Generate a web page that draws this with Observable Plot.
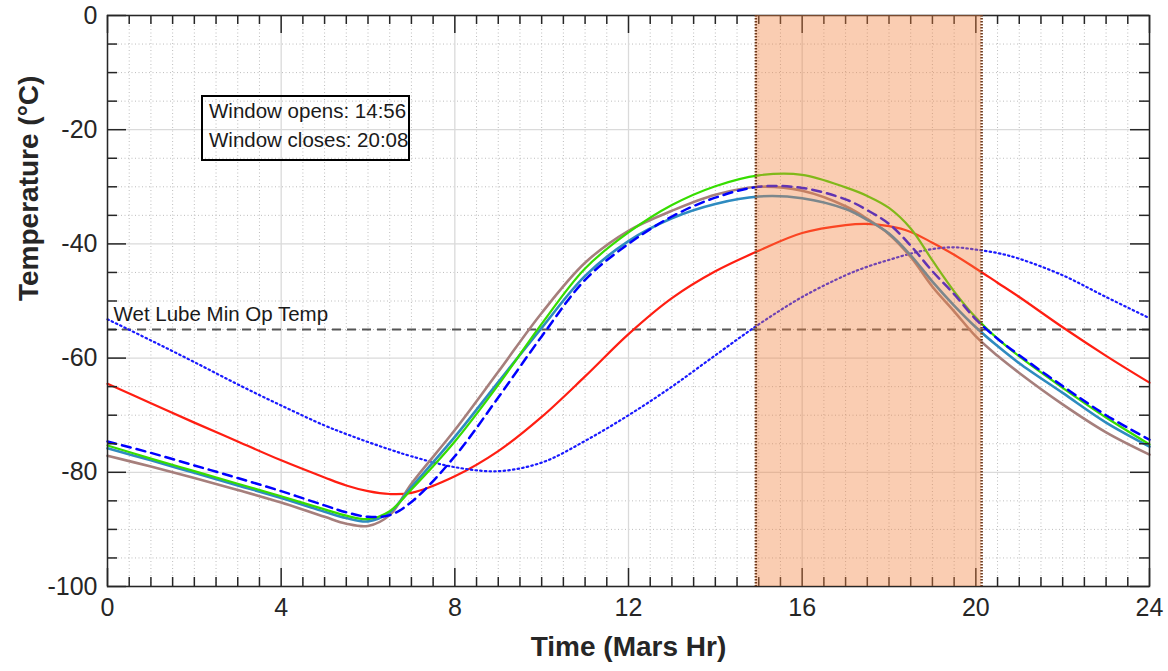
<!DOCTYPE html>
<html><head><meta charset="utf-8">
<script src="https://cdn.jsdelivr.net/npm/d3@7"></script>
<script src="https://cdn.jsdelivr.net/npm/@observablehq/plot@0.6"></script>
<style>
body{margin:0;background:#fff;}
#wrap{position:relative;width:1168px;height:671px;font-family:"Liberation Sans",Arial,Helvetica,sans-serif;}
#box{position:absolute;left:201px;top:95px;width:209px;height:66px;box-sizing:border-box;border:2px solid #000;background:transparent;font-size:20.5px;line-height:28.5px;padding:0 0 0 6px;color:#1a1a1a;white-space:nowrap;}
</style></head><body><div id="wrap"></div>
<script>
// time of day (Mars hours)
const hours = [0,1,2,3,4,5,5.5,6,6.5,7,8,9,10,11,12,13,14,15,16,17,17.5,18,18.5,19,19.5,20,20.5,21,22,23,24];
// temperature series (°C)
const brownT  = [-77.1,-79.0,-81.0,-83.1,-85.3,-87.8,-89.0,-89.4,-87.5,-82.0,-72.6,-62.4,-52.1,-43.3,-37.7,-34.2,-31.4,-30.0,-30.7,-33.4,-35.6,-38.3,-42.3,-47.5,-51.8,-56.2,-59.6,-62.6,-68.1,-73.0,-76.9];
const tealT   = [-75.8,-77.9,-80.1,-82.3,-84.5,-86.9,-88.0,-88.6,-87.0,-82.6,-73.8,-64.2,-54.7,-45.6,-39.5,-35.5,-33.0,-31.7,-32.0,-33.9,-35.8,-38.2,-42.0,-46.6,-50.8,-54.6,-57.9,-60.9,-66.1,-71.3,-75.5];
const greenT  = [-75.3,-77.6,-79.8,-82.0,-84.2,-86.5,-87.6,-88.2,-86.8,-83.0,-74.6,-64.7,-54.0,-44.3,-38.0,-33.2,-29.9,-28.0,-27.9,-30.1,-31.6,-33.7,-37.3,-42.9,-48.3,-52.9,-56.6,-59.7,-65.2,-70.4,-75.1];
const dashedT = [-74.6,-76.6,-78.8,-81.0,-83.3,-85.8,-87.0,-87.8,-87.5,-85.2,-77.2,-66.9,-56.2,-46.3,-40.0,-35.2,-31.9,-30.0,-30.2,-32.2,-34.1,-36.5,-40.3,-44.8,-48.8,-53.2,-56.6,-59.5,-64.9,-70.0,-74.3];
const redT    = [-64.5,-67.9,-71.3,-74.6,-77.9,-80.9,-82.3,-83.3,-83.8,-83.6,-80.7,-76.3,-70.3,-63.2,-55.8,-49.5,-44.8,-41.2,-38.1,-36.7,-36.5,-36.9,-37.9,-39.8,-41.9,-44.3,-46.8,-49.3,-54.6,-59.6,-64.3];
const dottedT = [-53.2,-56.9,-60.7,-64.6,-68.3,-71.8,-73.3,-74.7,-76.0,-77.2,-79.1,-79.8,-78.3,-74.5,-70.0,-65.0,-59.5,-54.1,-49.3,-45.5,-44.0,-42.8,-41.7,-40.9,-40.6,-41.0,-41.6,-42.6,-45.5,-49.3,-53.0];

// axes
const xDomain = [0, 24];
const yDomain = [-100, 0];
const xMajor = [0,4,8,12,16,20,24];
const xMinor = d3.range(0, 24.001, 0.5).filter(v => v % 4 !== 0);
const yMajor = [0,-20,-40,-60,-80,-100];
const yMinor = d3.range(-100, 0.001, 5).filter(v => v % 20 !== 0);

// annotations
const threshold = -55;
const thresholdLabel = "Wet Lube Min Op Temp";
const windowOpen = 14 + 56/60;
const windowClose = 20 + 8/60;
const boxLines = ["Window opens: 14:56", "Window closes: 20:08"];
const xTitle = "Time (Mars Hr)";
const yTitle = "Temperature (°C)";

const W = 1168, H = 671, mL = 107, mR = 19, mT = 15, mB = 85;
const pxPerY = (H - mT - mB) / (yDomain[1] - yDomain[0]);
const pxPerX = (W - mL - mR) / (xDomain[1] - xDomain[0]);
const lenY = px => px / pxPerY;
const lenX = px => px / pxPerX;

const axisColor = "#262626";
const line = (vals, opts) => Plot.line(hours, {x: d => d, y: (d, i) => vals[i], curve: "catmull-rom", ...opts});

const tickMarks = [
  Plot.ruleX(xMajor, {y1: yDomain[0], y2: yDomain[0] + lenY(18), stroke: axisColor, strokeWidth: 1.5}),
  Plot.ruleX(xMinor, {y1: yDomain[0], y2: yDomain[0] + lenY(9), stroke: axisColor, strokeWidth: 1.5}),
  Plot.ruleX(xMajor, {y1: yDomain[1], y2: yDomain[1] - lenY(18), stroke: axisColor, strokeWidth: 1.5}),
  Plot.ruleX(xMinor, {y1: yDomain[1], y2: yDomain[1] - lenY(9), stroke: axisColor, strokeWidth: 1.5}),
  Plot.ruleY(yMajor, {x1: xDomain[0], x2: xDomain[0] + lenX(19), stroke: axisColor, strokeWidth: 1.5}),
  Plot.ruleY(yMinor, {x1: xDomain[0], x2: xDomain[0] + lenX(10), stroke: axisColor, strokeWidth: 1.5}),
  Plot.ruleY(yMajor, {x1: xDomain[1], x2: xDomain[1] - lenX(19), stroke: axisColor, strokeWidth: 1.5}),
  Plot.ruleY(yMinor, {x1: xDomain[1], x2: xDomain[1] - lenX(10), stroke: axisColor, strokeWidth: 1.5})
];

const chart = Plot.plot({
  width: W, height: H,
  marginLeft: mL, marginRight: mR, marginTop: mT, marginBottom: mB,
  style: {fontFamily: '"Liberation Sans", Arial, Helvetica, sans-serif', color: axisColor, background: "#fff"},
  x: {domain: xDomain},
  y: {domain: yDomain},
  marks: [
    Plot.ruleX(xMinor, {stroke: "#bdbdbd", strokeDasharray: "1,2.5", strokeWidth: 1}),
    Plot.ruleY(yMinor, {stroke: "#bdbdbd", strokeDasharray: "1,2.5", strokeWidth: 1}),
    Plot.ruleX(xMajor, {stroke: "#dadada", strokeWidth: 1.3}),
    Plot.ruleY(yMajor, {stroke: "#dadada", strokeWidth: 1.3}),
    Plot.ruleY([threshold], {stroke: "#555", strokeDasharray: "9,6", strokeWidth: 2}),
    Plot.text([thresholdLabel], {x: xDomain[0], y: threshold, text: d => d, textAnchor: "start", lineAnchor: "bottom", dx: 6, dy: -9, fontSize: 20.5, fill: "#1a1a1a"}),
    line(redT, {stroke: "#ff1e12", strokeWidth: 2.2}),
    line(dottedT, {stroke: "#1a1aff", strokeWidth: 2.2, strokeDasharray: "1.5,3.2", strokeLinecap: "round"}),
    line(brownT, {stroke: "#a67f7c", strokeWidth: 2.6}),
    line(tealT, {stroke: "#2e8bc0", strokeWidth: 2.6}),
    line(greenT, {stroke: "#36dd00", strokeWidth: 2.2}),
    line(dashedT, {stroke: "#0000ff", strokeWidth: 2.5, strokeDasharray: "9,6"}),
    ...tickMarks,
    Plot.frame({stroke: axisColor, strokeWidth: 1.5}),
    Plot.rect([{a: windowOpen, b: windowClose}], {x1: "a", x2: "b", fill: "#f2823f", fillOpacity: 0.4}),
    Plot.ruleX([windowOpen, windowClose], {stroke: "#6e3a1c", strokeWidth: 2.5, strokeDasharray: "1.5,1.5"}),
    Plot.axisX(xMajor, {anchor: "bottom", tickSize: 0, tickPadding: 12, fontSize: 25, tickFormat: d => String(d), label: null}),
    Plot.axisY(yMajor, {anchor: "left", tickSize: 0, tickPadding: 10, fontSize: 25, tickFormat: d => String(d), label: null}),
    Plot.text([xTitle], {frameAnchor: "bottom", dy: 69, text: d => d, fontSize: 28, fontWeight: "bold", fill: axisColor}),
    Plot.text([yTitle], {frameAnchor: "left", dx: -78, rotate: -90, text: d => d, fontSize: 28, fontWeight: "bold", fill: axisColor})
  ]
});

const wrap = document.getElementById("wrap");
wrap.appendChild(chart);
const box = document.createElement("div");
box.id = "box";
box.innerHTML = boxLines.map(t => `<div>${t}</div>`).join("");
wrap.appendChild(box);
</script>
</body></html>
